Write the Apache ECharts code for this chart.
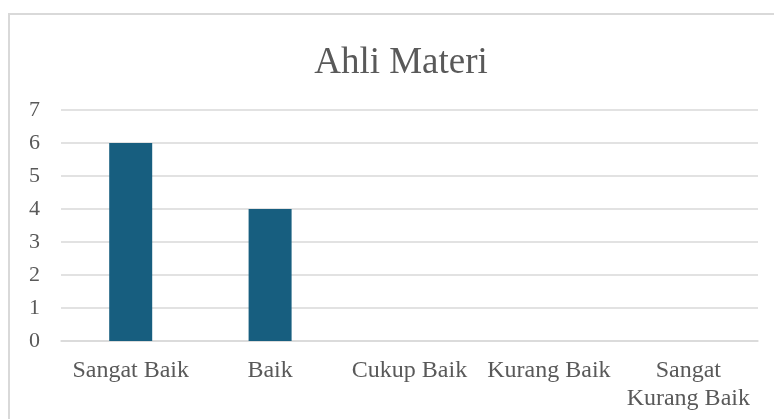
<!DOCTYPE html>
<html>
<head>
<meta charset="utf-8">
<script src="https://cdn.jsdelivr.net/npm/echarts@6/dist/echarts.min.js"></script>
<style>html,body{margin:0;padding:0;background:#fff;}#c{width:774px;height:419px;}</style>
</head>
<body>
<div id="c"></div>
<script>
const title = 'Ahli Materi';
const categories = ['Sangat Baik', 'Baik', 'Cukup Baik', 'Kurang Baik', 'Sangat Kurang Baik'];
const values = [6, 4, 0, 0, 0];
const yTicks = [0, 1, 2, 3, 4, 5, 6, 7];

const chart = echarts.init(document.getElementById('c'), null, {renderer: 'canvas'});
const font = '"Liberation Serif", "Times New Roman", serif';
chart.setOption({
  animation: false,
  backgroundColor: '#fff',
  graphic: [{
    type: 'rect', left: 8, top: 13, z: -1,
    shape: {width: 820, height: 430},
    style: {fill: '#fff', stroke: '#d9d9d9', lineWidth: 2}
  }],
  title: {
    text: title, left: 396, top: 40, textAlign: 'center',
    textStyle: {fontFamily: font, fontSize: 37, fontWeight: 'normal', color: '#595959'}
  },
  grid: {left: 61, right: 16, top: 110, bottom: 78, containLabel: false},
  xAxis: {
    type: 'category', data: categories,
    axisLine: {lineStyle: {color: '#d9d9d9', width: 1.5}},
    axisTick: {show: false},
    axisLabel: {
      fontFamily: font, fontSize: 24, color: '#595959', margin: 16, lineHeight: 28,
      interval: 0,
      formatter: v => v === 'Sangat Kurang Baik' ? 'Sangat\nKurang Baik' : v
    }
  },
  yAxis: {
    type: 'value', min: yTicks[0], max: yTicks[yTicks.length - 1], interval: 1,
    axisLine: {show: false}, axisTick: {show: false},
    splitLine: {lineStyle: {color: '#d9d9d9', width: 1.5}},
    axisLabel: {fontFamily: font, fontSize: 22, color: '#595959', margin: 21}
  },
  series: [{
    type: 'bar', data: values, barWidth: 43,
    itemStyle: {color: '#175E7F'}
  }]
});
</script>
</body>
</html>
